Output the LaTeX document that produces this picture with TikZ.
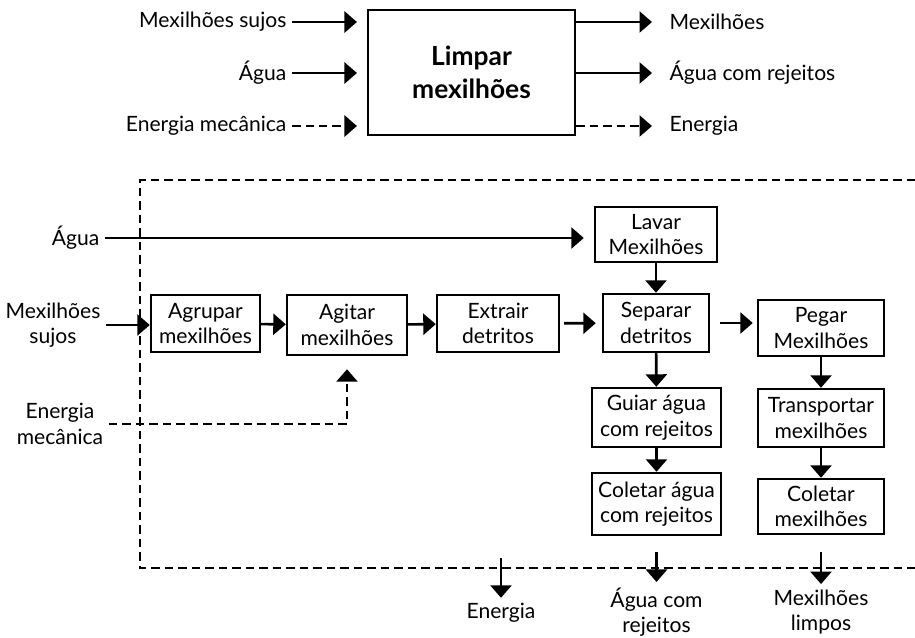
\documentclass[tikz,border=0pt]{standalone}
\usepackage{fontspec}
\setmainfont{Lato}
\usetikzlibrary{arrows.meta}

\begin{document}
\begin{tikzpicture}[x=0.02cm, y=-0.02cm,
    box/.style={draw, line width=1.4pt, align=center, inner sep=1pt,
        font=\fontsize{12}{14.5}\selectfont},
    sz/.style 2 args={minimum width=#1*0.02cm, minimum height=#2*0.02cm},
    lbl/.style={inner sep=3pt, font=\fontsize{12}{14.5}\selectfont},
    lbltwo/.style={lbl, align=center},
    flow/.style={line width=1.5pt, -{Triangle[length=0.25cm, width=0.42cm]}},
    dflow/.style={flow, dash pattern=on 0.17cm off 0.1cm}]
\useasboundingbox (0,0) rectangle (915,637);

% black box
\node[box, line width=1.2pt, sz={207}{125}, font=\fontsize{15}{19}\selectfont\bfseries] (main) at (471.5,72.5) {Limpar\\mexilhões};

\node[lbl, anchor=east] (inMex) at (292,22) {Mexilhões sujos};
\node[lbl, anchor=east] (inAgua) at (292,73) {Água};
\node[lbl, anchor=east] (inEnerg) at (292,126) {Energia mecânica};
\node[lbl, anchor=west] (outMex) at (664,22) {Mexilhões};
\node[lbl, anchor=west] (outAgua) at (664,73) {Água com rejeitos};
\node[lbl, anchor=west] (outEnerg) at (664,126) {Energia};

\draw[flow, shorten >=0.2cm] (inMex) -- (inMex -| main.west);
\draw[flow, shorten >=0.2cm] (inAgua) -- (inAgua -| main.west);
\draw[dflow, shorten >=0.2cm] (inEnerg) -- (inEnerg -| main.west);
\draw[flow, shorten >=0.24cm] (outMex -| main.east) -- (outMex);
\draw[flow, shorten >=0.24cm] (outAgua -| main.east) -- (outAgua);
\draw[dflow, shorten >=0.24cm] (outEnerg -| main.east) -- (outEnerg);

% system border
\draw[line width=1.5pt, dash pattern=on 0.17cm off 0.1cm] (915,180) -| (140,568) -- (915,568);

% functions
\node[box, sz={122}{55}] (lavar) at (656,234.5) {Lavar\\Mexilhões};
\node[box, sz={109}{57}] (agrupar) at (205.5,323.5) {Agrupar\\mexilhões};
\node[box, sz={120}{60}] (agitar) at (347,325) {Agitar\\mexilhões};
\node[box, sz={122}{57}] (extrair) at (498,323.5) {Extrair\\detritos};
\node[box, sz={106}{58}] (separar) at (656,323) {Separar\\detritos};
\node[box, sz={126}{56}] (pegar) at (821,328) {Pegar\\Mexilhões};
\node[box, sz={129}{59}] (guiar) at (656.5,417.5) {Guiar água\\com rejeitos};
\node[box, sz={126}{58}] (transp) at (821,418) {Transportar\\mexilhões};
\node[box, sz={129}{62}] (colagua) at (656.5,504) {Coletar água\\com rejeitos};
\node[box, sz={126}{55}] (colmex) at (821,506.5) {Coletar\\mexilhões};

% inputs
\node[lbl, anchor=east] (agua) at (105,238) {Água};
\node[lbltwo] (mexsujos) at (53,325) {Mexilhões\\sujos};
\node[lbltwo] (enmec) at (60,424) {Energia\\mecânica};

\draw[flow, shorten >=0.2cm] (agua) -- (agua -| lavar.west);
\draw[flow] (mexsujos) -- (mexsujos -| agrupar.west);
\draw[dflow, shorten >=0.26cm] (enmec) -| (agitar.south);

\draw[flow] (agrupar) -- (agitar);
\draw[flow] (agitar) -- (extrair);
\draw[flow, shorten <=0.08cm, shorten >=0.12cm] (extrair) -- (separar);
\draw[flow, shorten <=0.2cm, shorten >=0.08cm] (separar.east) -- (separar.east -| pegar.west);
\draw[flow] (lavar) -- (separar);
\draw[flow] (separar) -- (guiar);
\draw[flow] (guiar) -- (colagua);
\draw[flow] (pegar) -- (transp);
\draw[flow] (transp) -- (colmex);

% outputs
\node[lbl] (enout) at (501,613) {Energia};
\node[lbltwo] (aguaout) at (656.5,612) {Água com\\rejeitos};
\node[lbltwo] (mexout) at (821,612) {Mexilhões\\limpos};
\coordinate (enstart) at (501,558);

\draw[flow] (enstart) -- (enout);
\draw[flow] ([yshift=-0.32cm]colagua.south) -- (aguaout);
\draw[flow] ([yshift=-0.34cm]colmex.south) -- (mexout);

\end{tikzpicture}
\end{document}
